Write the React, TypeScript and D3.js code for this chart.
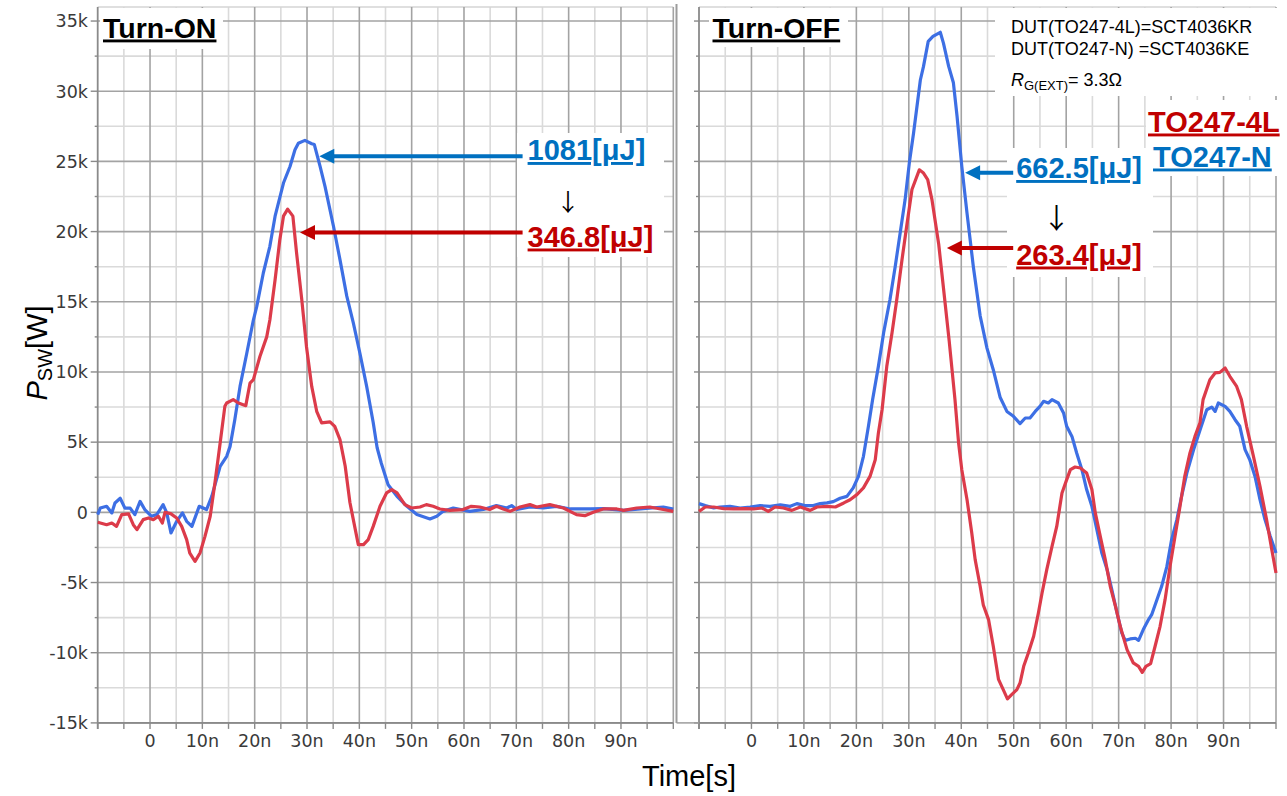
import React from 'react';
import * as d3 from 'd3';

// ---------- data: switching power P_SW [kW] versus time [ns] ----------
const timeTicks = [0, 10, 20, 30, 40, 50, 60, 70, 80, 90];
const timeLabels = ['0', '10n', '20n', '30n', '40n', '50n', '60n', '70n', '80n', '90n'];
const powerTicks = [35, 30, 25, 20, 15, 10, 5, 0, -5, -10, -15];
const powerLabels = ['35k', '30k', '25k', '20k', '15k', '10k', '5k', '0', '-5k', '-10k', '-15k'];

// Turn-ON, TO247-N (blue)
const onN: [number, number][] = [
  [-10, -0.16], [-9.5, 0.31], [-8.3, 0.43], [-7.3, -0.04], [-6.7, 0.67], [-5.7, 1.0], [-4.8, 0.3], [-3.8, 0.3],
  [-2.9, -0.16], [-1.9, 0.78], [-1.0, 0.2], [0.3, -0.28], [1.3, -0.16], [2.5, 0.55], [3.2, -0.04], [4.0, -1.47],
  [5.1, -0.64], [6.2, -0.04], [7.0, -0.64], [8.0, -1.0], [9.4, 0.43], [10.8, 0.2], [11.8, 1.14], [13.4, 3.28],
  [14.65, 3.99], [15.3, 4.7], [16.2, 6.6], [17.2, 8.97], [18.5, 11.35], [19.75, 13.7], [20.4, 14.67], [21.65, 17.05],
  [22.9, 18.95], [23.9, 21.1], [25.5, 23.46], [26.75, 24.64], [27.7, 25.83], [28.35, 26.3], [29.6, 26.5], [30.9, 26.26],
  [31.4, 26.2], [32.5, 24.64], [33.45, 23.2], [35.05, 20.4], [36.3, 18.0], [37.6, 15.4], [38.85, 13.5], [40.1, 11.35],
  [41.4, 8.97], [42.65, 6.4], [43.4, 4.6], [44.2, 3.5], [45.5, 1.97], [47.2, 1.14], [49.1, 0.43], [51.0, -0.16],
  [53.5, -0.47], [54.8, -0.28], [56.0, 0.07], [57.95, 0.31], [61.1, 0.07], [63.7, 0.2], [66.2, 0.48], [68.2, 0.31],
  [69.1, 0.48], [70.1, 0.2], [72.6, 0.38], [75.2, 0.31], [77.7, 0.43], [80.3, 0.24], [84.1, 0.24], [86.7, 0.27],
  [90.5, 0.14], [94.3, 0.27], [98.1, 0.38], [100, 0.24],
];

// Turn-ON, TO247-4L (red)
const on4L: [number, number][] = [
  [-10, -0.71], [-8.3, -0.88], [-7.3, -0.76], [-6.4, -1.0], [-5.4, -0.16], [-4.1, -0.11], [-3.2, -0.88], [-2.5, -1.23],
  [-1.3, -0.52], [-0.3, -0.4], [0.64, -0.52], [1.6, -0.28], [2.35, -0.76], [2.87, 0], [3.95, -0.09], [5.1, -0.4],
  [6.05, -1.0], [7.0, -1.94], [7.6, -2.9], [8.6, -3.49], [9.55, -2.9], [10.5, -1.71], [11.5, -0.28], [12.4, 2.09],
  [13.4, 4.94], [14.3, 7.55], [14.65, 7.79], [15.9, 8.03], [16.9, 7.79], [17.8, 7.67], [18.3, 7.6], [19.1, 9.2],
  [19.75, 9.45], [21.0, 11.1], [22.3, 12.5], [22.9, 13.7], [23.9, 16.57], [24.8, 19.4], [25.5, 21.1], [26.3, 21.6],
  [27.3, 21.1], [28.0, 18.5], [29.0, 15.15], [29.9, 11.8], [30.9, 8.97], [31.85, 7.2], [32.8, 6.37], [34.4, 6.45],
  [35.3, 6.13], [36.3, 5.18], [37.3, 3.28], [38.2, 0.7], [39.8, -2.3], [40.8, -2.3], [41.7, -1.94], [42.65, -1.0],
  [43.95, 0.43], [45.2, 1.38], [46.2, 1.62], [47.2, 1.38], [48.7, 0.55], [50.0, 0.31], [51.6, 0.38], [52.8, 0.55],
  [54.1, 0.43], [55.4, 0.24], [57.3, 0.14], [59.8, 0.2], [61.4, 0.43], [63.0, 0.38], [64.9, 0.2], [66.2, 0.43],
  [67.5, 0.24], [68.8, 0.07], [70.7, 0.38], [72.6, 0.55], [73.9, 0.38], [76.4, 0.55], [79.0, 0.31], [81.5, -0.16],
  [83.1, -0.24], [84.7, 0], [86.6, 0.24], [89.2, 0.24], [90.5, 0.14], [93.0, 0.31], [95.5, 0.38], [98.1, 0.2], [100, 0.07],
];

// Turn-OFF, TO247-N (blue)
const offN: [number, number][] = [
  [-10, 0.62], [-8.8, 0.48], [-7.2, 0.31], [-6.0, 0.38], [-4.1, 0.43], [-2.15, 0.31], [-0.25, 0.38], [1.65, 0.48],
  [3.55, 0.43], [5.5, 0.53], [7.4, 0.43], [8.65, 0.62], [10.2, 0.48], [11.8, 0.48], [13.1, 0.62], [14.4, 0.67],
  [15.6, 0.76], [16.9, 1.0], [18.2, 1.14], [19.4, 1.74], [20.4, 2.56], [21.35, 3.99], [22.3, 6.13], [23.1, 8.03],
  [24.2, 10.4], [25.2, 12.8], [26.4, 15.15], [27.4, 17.5], [28.35, 19.9], [29.3, 22.3], [30.1, 24.9], [30.9, 27.0],
  [32.2, 30.8], [32.8, 31.77], [33.7, 33.55], [34.6, 33.9], [36.0, 34.2], [36.6, 33.43], [37.6, 31.77], [38.5, 30.6],
  [39.2, 28.2], [40.1, 24.64], [41.1, 21.3], [42.3, 17.5], [43.6, 14.0], [44.9, 11.7], [46.1, 10.16], [47.4, 8.2],
  [48.7, 7.19], [49.95, 6.84], [51.2, 6.32], [52.2, 6.72], [53.1, 6.72], [54.1, 7.19], [55.0, 7.55], [55.7, 7.91],
  [56.6, 7.79], [57.3, 8.03], [58.5, 7.79], [59.5, 7.08], [60.1, 6.13], [61.1, 5.41], [62.0, 4.23], [63.0, 3.04],
  [63.9, 1.62], [64.9, 0.43], [65.85, -1.23], [66.8, -2.9], [67.8, -4.08], [68.7, -5.5], [69.7, -7.17], [70.6, -8.59],
  [71.25, -9.12], [72.2, -9.02], [73.2, -8.97], [73.8, -9.12], [74.7, -8.35], [75.7, -7.64], [76.3, -7.29], [77.3, -6.22],
  [78.2, -5.27], [79.2, -3.85], [80.1, -1.94], [81.1, -0.52], [82.0, 1.14], [83.0, 2.8], [84.3, 4.47], [85.55, 5.9],
  [86.8, 7.31], [87.75, 7.5], [88.4, 7.19], [89.0, 7.79], [90.3, 7.55], [91.2, 7.19], [92.2, 6.6], [93.1, 6.13],
  [94.1, 4.47], [95.0, 3.75], [96.0, 2.56], [96.95, 0.9], [97.9, -0.52], [98.9, -1.71], [100, -2.9],
];

// Turn-OFF, TO247-4L (red)
const off4L: [number, number][] = [
  [-10, 0.07], [-8.8, 0.38], [-7.2, 0.38], [-5.3, 0.27], [-3.4, 0.24], [-1.5, 0.27], [0.4, 0.24], [2.0, 0.31],
  [3.2, 0.07], [4.5, 0.38], [6.1, 0.31], [7.7, 0.14], [9.3, 0.38], [11.2, 0.14], [12.5, 0.38], [14.4, 0.43],
  [16.0, 0.38], [17.6, 0.67], [18.8, 0.9], [20.1, 1.26], [21.35, 1.74], [22.6, 2.56], [23.6, 3.75], [24.2, 5.66],
  [24.9, 7.31], [25.8, 10.4], [26.8, 12.8], [27.7, 15.15], [28.7, 18.0], [29.6, 20.4], [30.6, 23.0], [32.0, 24.4],
  [32.8, 24.17], [33.6, 23.7], [34.4, 22.3], [35.7, 19.1], [36.6, 16.0], [37.7, 12.2], [38.8, 8.03], [39.5, 4.9],
  [40.1, 3.04], [41.1, 0.9], [42.0, -1.47], [42.65, -3.37], [43.6, -5.27], [44.2, -6.6], [45.2, -7.64], [46.1, -9.54],
  [47.1, -11.9], [48.0, -12.63], [48.8, -13.29], [49.6, -12.98], [50.6, -12.63], [51.2, -12.16], [51.9, -10.97], [52.8, -10.0],
  [53.8, -8.83], [54.7, -7.17], [55.4, -5.74], [56.3, -4.08], [57.3, -2.42], [58.2, -1.0], [59.2, 1.38], [60.1, 2.33],
  [60.8, 3.04], [61.7, 3.23], [62.7, 3.16], [63.9, 2.8], [64.9, 1.62], [65.55, -0.04], [66.5, -1.71], [67.45, -3.37],
  [68.4, -5.27], [69.4, -6.7], [70.3, -8.12], [71.6, -9.78], [72.8, -10.73], [73.8, -10.97], [74.5, -11.4], [75.2, -10.97],
  [76.1, -10.78], [76.95, -9.54], [77.9, -8.12], [78.85, -6.22], [79.8, -3.85], [80.75, -1.71], [81.7, 0.43], [82.6, 2.56],
  [83.6, 4.23], [84.55, 5.41], [85.5, 6.37], [86.1, 8.03], [87.4, 9.45], [88.4, 9.93], [89.3, 9.97], [90.3, 10.28],
  [91.2, 9.69], [92.5, 8.97], [93.4, 8.03], [94.4, 6.13], [95.7, 3.99], [96.95, 1.85], [98.2, -0.52], [99.2, -2.66], [100, -4.32],
];

// Switching-energy call-outs: [power level kW, arrow tip time ns, arrow tail time ns]
const onArrowN = [25.36, 32.35, 71.2];
const onArrow4L = [19.94, 28.66, 71.2];
const offArrowN = [24.2, 40.74, 49.9];
const offArrow4L = [18.83, 37.25, 49.9];
const onEnergyLabels = ['1081[μJ]', '346.8[μJ]'];
const offEnergyLabels = ['662.5[μJ]', '263.4[μJ]'];
const legendLabels = ['TO247-4L', 'TO247-N'];
const dutLines = ['DUT(TO247-4L)=SCT4036KR', 'DUT(TO247-N) =SCT4036KE'];

// ---------- styles ----------
const BLUE_LINE = '#3d6fe4';
const RED_LINE = '#dc3b4a';
const BLUE_TXT = '#0070c0';
const RED_TXT = '#c00000';
const GRID_MAJOR = '#a3a3a3';
const GRID_MINOR = '#dadada';
const TICK_FONT = '"DejaVu Sans", Verdana, sans-serif';
const ARIAL = '"Liberation Sans", Arial, sans-serif';
const ARROW_FONT = '"Noto Sans CJK JP", "DejaVu Sans", sans-serif';

const W = 1287;
const H = 796;
const yScale = d3.scaleLinear().domain([-15, 36]).range([722.9, 7]);
const xOn = d3.scaleLinear().domain([-10, 100]).range([97.7, 673.3]);
const xOff = d3.scaleLinear().domain([-10, 100]).range([699, 1276]);

const minorT = d3.range(-5, 100, 10);
const majorT = d3.range(0, 101, 10);
const minorP = d3.range(-12.5, 36, 5);
const majorP = d3.range(-15, 36, 5);
const tickT = d3.range(-10, 101, 5);

function Grid({ x, leftTicks }: { x: d3.ScaleLinear<number, number>; leftTicks: boolean }) {
  const [x0, x1] = x.range();
  const yTop = yScale(36);
  const yBot = yScale(-15);
  return (
    <g>
      {minorT.map((t) => (
        <line key={'mt' + t} x1={x(t)} x2={x(t)} y1={yTop} y2={yBot} stroke={GRID_MINOR} strokeWidth={1.6} />
      ))}
      {minorP.map((p) => (
        <line key={'mp' + p} x1={x0} x2={x1} y1={yScale(p)} y2={yScale(p)} stroke={GRID_MINOR} strokeWidth={1.6} />
      ))}
      <line x1={x0} x2={x1} y1={yTop} y2={yTop} stroke="#d4d4d4" strokeWidth={1.5} />
      {majorT.map((t) => (
        <line key={'Mt' + t} x1={x(t)} x2={x(t)} y1={yTop} y2={yBot} stroke={GRID_MAJOR} strokeWidth={1.6} />
      ))}
      {majorP.map((p) => (
        <line key={'Mp' + p} x1={x0} x2={x1} y1={yScale(p)} y2={yScale(p)} stroke={GRID_MAJOR} strokeWidth={1.6} />
      ))}
      <line x1={x0} x2={x0} y1={yTop} y2={yBot + 6} stroke="#8a8a8a" strokeWidth={1.8} />
      <line x1={x0} x2={x1} y1={yBot} y2={yBot} stroke="#8a8a8a" strokeWidth={1.8} />
      {tickT.map((t) => (
        <line key={'bt' + t} x1={x(t)} x2={x(t)} y1={yBot} y2={yBot + 6} stroke="#8a8a8a" strokeWidth={1.4} />
      ))}
      {d3.range(-15, 36, 2.5).map((p) => (
        <line
          key={'lt' + p}
          x1={x0 - (p % 5 === 0 ? (leftTicks ? 7 : 5) : 3)}
          x2={x0}
          y1={yScale(p)}
          y2={yScale(p)}
          stroke="#8a8a8a"
          strokeWidth={1.4}
        />
      ))}
      {timeTicks.map((t, i) => (
        <text key={'tl' + t} x={x(t)} y={747} textAnchor="middle" fontFamily={TICK_FONT} fontSize={17.5} fill="#3a3a3a">
          {timeLabels[i]}
        </text>
      ))}
    </g>
  );
}

function Curve({ x, data, color }: { x: d3.ScaleLinear<number, number>; data: [number, number][]; color: string }) {
  const line = d3
    .line<[number, number]>()
    .x((d) => x(d[0]))
    .y((d) => yScale(d[1]))
    .curve(d3.curveLinear);
  return <path d={line(data) || ''} fill="none" stroke={color} strokeWidth={3.2} strokeLinejoin="round" />;
}

function Arrow({ x, spec, color }: { x: d3.ScaleLinear<number, number>; spec: number[]; color: string }) {
  const [p, tTip, tTail] = spec;
  const ya = yScale(p);
  const xt = x(tTip);
  const xf = x(tTail);
  return (
    <g>
      <line x1={xf} x2={xt + 12} y1={ya} y2={ya} stroke={color} strokeWidth={4} />
      <path d={`M${xt},${ya} L${xt + 15},${ya - 7.5} L${xt + 15},${ya + 7.5} Z`} fill={color} />
    </g>
  );
}

function BoldLabel({ x, y, text, color, size = 29 }: { x: number; y: number; text: string; color: string; size?: number }) {
  return (
    <text x={x} y={y} fontFamily={ARIAL} fontWeight="bold" fontSize={size} fill={color} textDecoration="underline">
      {text}
    </text>
  );
}

export default function App() {
  const yMid = (yScale(36) + yScale(-15)) / 2;
  return (
    <svg
      width={W}
      height={H}
      viewBox={`0 0 ${W} ${H}`}
      style={{ position: 'absolute', left: 0, top: 0, background: '#fff' }}
    >
      <rect x={0} y={0} width={W} height={H} fill="#fff" />

      {/* power axis labels (left panel only) */}
      {powerTicks.map((p, i) => (
        <text
          key={'pl' + p}
          x={88}
          y={yScale(p)}
          dy="0.36em"
          textAnchor="end"
          fontFamily={TICK_FONT}
          fontSize={17.5}
          fill="#3a3a3a"
        >
          {powerLabels[i]}
        </text>
      ))}

      <Grid x={xOn} leftTicks={true} />
      <Grid x={xOff} leftTicks={false} />

      {/* frame between the two panels */}
      <line x1={676.5} x2={676.5} y1={4} y2={yScale(-15)} stroke="#9c9c9c" strokeWidth={2} />
      <line x1={676.5} x2={699} y1={yScale(-15)} y2={yScale(-15)} stroke="#9c9c9c" strokeWidth={1.5} />

      {/* waveforms */}
      <Curve x={xOn} data={onN} color={BLUE_LINE} />
      <Curve x={xOn} data={on4L} color={RED_LINE} />
      <Curve x={xOff} data={offN} color={BLUE_LINE} />
      <Curve x={xOff} data={off4L} color={RED_LINE} />

      {/* white label backgrounds */}
      <rect x={100} y={8} width={123} height={41} fill="#fff" />
      <rect x={709} y={8} width={139} height={39} fill="#fff" />
      <rect x={517} y={133} width={147} height={124} fill="#fff" />
      <rect x={1007} y={148} width={146} height={129} fill="#fff" />
      <rect x={995} y={8} width={292} height={88} fill="#fff" />
      <rect x={1146} y={100} width={141} height={76} fill="#fff" />

      {/* panel titles */}
      <BoldLabel x={103} y={37.5} text="Turn-ON" color="#000" size={28.5} />
      <BoldLabel x={712.5} y={37.5} text="Turn-OFF" color="#000" size={28.5} />

      {/* energy call-outs, turn-on */}
      <Arrow x={xOn} spec={onArrowN} color={BLUE_TXT} />
      <Arrow x={xOn} spec={onArrow4L} color={RED_TXT} />
      <BoldLabel x={xOn(onArrowN[2]) + 5} y={160} text={onEnergyLabels[0]} color={BLUE_TXT} />
      <text x={568} y={211} textAnchor="middle" fontFamily={ARROW_FONT} fontSize={24} fill="#000">
        ↓
      </text>
      <BoldLabel x={xOn(onArrow4L[2]) + 5} y={246.5} text={onEnergyLabels[1]} color={RED_TXT} />

      {/* energy call-outs, turn-off */}
      <Arrow x={xOff} spec={offArrowN} color={BLUE_TXT} />
      <Arrow x={xOff} spec={offArrow4L} color={RED_TXT} />
      <BoldLabel x={xOff(offArrowN[2]) + 3} y={178} text={offEnergyLabels[0]} color={BLUE_TXT} />
      <text x={1056.5} y={229} textAnchor="middle" fontFamily={ARROW_FONT} fontSize={28} fill="#000">
        ↓
      </text>
      <BoldLabel x={xOff(offArrow4L[2]) + 3} y={264.5} text={offEnergyLabels[1]} color={RED_TXT} />

      {/* device info */}
      <text x={1011} y={32.5} fontFamily={ARIAL} fontSize={18} fill="#000">
        {dutLines[0]}
      </text>
      <text x={1011} y={54.5} fontFamily={ARIAL} fontSize={18} fill="#000">
        {dutLines[1]}
      </text>
      <text x={1011} y={86} fontFamily={ARIAL} fontSize={18} fill="#000">
        <tspan fontStyle="italic">R</tspan>
        <tspan fontSize={13} dy={3.5}>G(EXT)</tspan>
        <tspan dy={-3.5}>= 3.3Ω</tspan>
      </text>

      {/* legend */}
      <BoldLabel x={1148} y={131.5} text={legendLabels[0]} color={RED_TXT} />
      <BoldLabel x={1153} y={166.5} text={legendLabels[1]} color={BLUE_TXT} />

      {/* axis titles */}
      <text x={689} y={786} textAnchor="middle" fontFamily={ARIAL} fontSize={29} fill="#000">
        Time[s]
      </text>
      <text
        transform={`translate(47,${yMid - 12}) rotate(-90)`}
        textAnchor="middle"
        fontFamily={ARIAL}
        fontSize={29}
        fill="#000"
      >
        <tspan fontStyle="italic">P</tspan>
        <tspan fontSize={20} dy={5}>SW</tspan>
        <tspan dy={-5}>[W]</tspan>
      </text>
    </svg>
  );
}
